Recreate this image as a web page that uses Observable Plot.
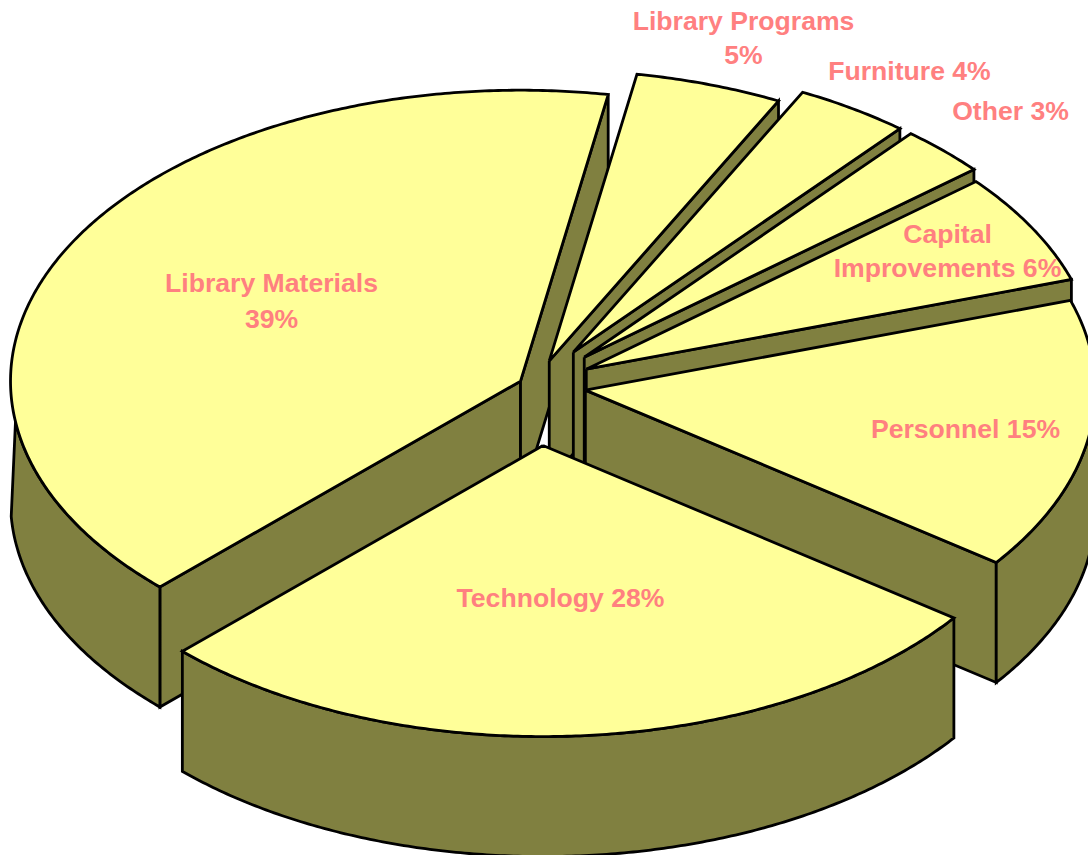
<!DOCTYPE html>
<html>
<head>
<meta charset="utf-8">
<script src="https://cdn.jsdelivr.net/npm/d3@7"></script>
<script src="https://cdn.jsdelivr.net/npm/@observablehq/plot@0.6"></script>
<style>
html,body{margin:0;padding:0;background:#fff;overflow:hidden}
svg{display:block}
</style>
</head>
<body>
<div id="chart"></div>
<script>
// Data, clockwise from Library Materials
const categories = ["Library Materials","Library Programs","Furniture","Other","Capital Improvements","Personnel","Technology"];
const percentLabels = [39,5,4,3,6,15,28];
// Share of the turn each slice occupies as drawn (percent)
const drawnShare = [40.25,4.67,3.64,2.78,6.17,15.08,27.41];
// How far each slice is pulled out of the pie, as a fraction of the radius
const explode = [0.032,0.089,0.137,0.137,0.115,0.1,0.207];

// Projection of the pie
const W = 1088, H = 855;
const pie = {cx:534.5, cy:385, rx:510, ry:291, depth:120, start:225, horizonInset:8, baseInset:3};
const colors = {top:"#ffff99", wall:"#808040", ink:"#000000", text:"#ff8080"};

// Label lines: text and where it is centred
const labelLines = [
  {text:"Library Materials", x:271, y:283},
  {text:"39%", x:271, y:319},
  {text:"Library Programs", x:743, y:21},
  {text:"5%", x:743, y:55},
  {text:"Furniture 4%", x:909, y:71},
  {text:"Other 3%", x:1010, y:111},
  {text:"Capital", x:947, y:234},
  {text:"Improvements 6%", x:947, y:268},
  {text:"Personnel 15%", x:965, y:429},
  {text:"Technology 28%", x:560, y:598}
];

// Build faces, in painting order (back to front)
const rad = d => d * Math.PI / 180;
const polys = [];
let angle = pie.start, id = 0;
function face(kind, pts){
  const key = id++;
  const closed = pts.concat([pts[0]]);
  closed.forEach(([x,y]) => polys.push({x, y, key, kind}));
}
categories.forEach((name,i) => {
  const a0 = angle, a1 = angle + drawnShare[i] * 3.6;
  angle = a1;
  const mid = rad((a0 + a1) / 2);
  const ax = pie.cx + explode[i] * pie.rx * Math.sin(mid);
  const ay = pie.cy - explode[i] * pie.ry * Math.cos(mid);
  const at = t => [ax + pie.rx * Math.sin(rad(t)), ay - pie.ry * Math.cos(rad(t))];
  const down = ([x,y]) => [x, y + pie.depth];
  const arc = (p,q) => d3.range(p, q, 0.5).concat([q]).map(at);

  // cut faces that look towards the viewer
  if (Math.sin(rad(a0)) < 0) { const p = at(a0); face("wall", [[ax,ay],p,down(p),down([ax,ay])]); }
  if (Math.sin(rad(a1)) > 0) { const p = at(a1); face("wall", [[ax,ay],p,down(p),down([ax,ay])]); }
  // outer rim: only the near half of the circle shows; its edges leave the
  // faces a little before the horizon, as in the picture
  for (const k of [-1,0,1]) {
    const lo = Math.max(a0, 90 + 360*k), hi = Math.min(a1, 270 + 360*k);
    if (lo < hi) {
      const upLo = Math.max(a0, 90 + pie.horizonInset + 360*k);
      const upHi = Math.min(a1, 270 - pie.horizonInset + 360*k);
      const baseLo = Math.max(a0, 90 + pie.baseInset + 360*k);
      const baseHi = Math.min(a1, 270 - pie.baseInset + 360*k);
      face("wall", arc(upLo,upHi).concat(arc(baseLo,baseHi).map(down).reverse()));
    }
  }
  // top
  face("top", [[ax,ay]].concat(arc(a0,a1)));
});

// One line mark per face keeps the painting order
const faceIds = d3.range(id);
const byKey = d3.group(polys, d => d.key);
const marks = faceIds.map(k => {
  const rows = byKey.get(k);
  return Plot.line(rows, {
    x:"x", y:"y",
    fill: rows[0].kind === "top" ? colors.top : colors.wall,
    stroke: colors.ink, strokeWidth: 2.8,
    strokeLinejoin:"miter", strokeMiterlimit:3, strokeLinecap:"butt", curve:"linear"
  });
});
marks.push(Plot.text(labelLines, {
  x:"x", y:"y", text:"text",
  fill: colors.text, fontWeight:"bold", fontSize:26.6,
  fontFamily:"'Liberation Sans', Arial, sans-serif",
  textAnchor:"middle", lineAnchor:"middle"
}));

const chart = Plot.plot({
  width:W, height:H, margin:0,
  style:{background:"#fff", overflow:"hidden"},
  x:{domain:[0,W], range:[0,W], axis:null},
  y:{domain:[0,H], range:[0,H], axis:null},
  marks
});
document.getElementById("chart").appendChild(chart);
</script>
</body>
</html>
